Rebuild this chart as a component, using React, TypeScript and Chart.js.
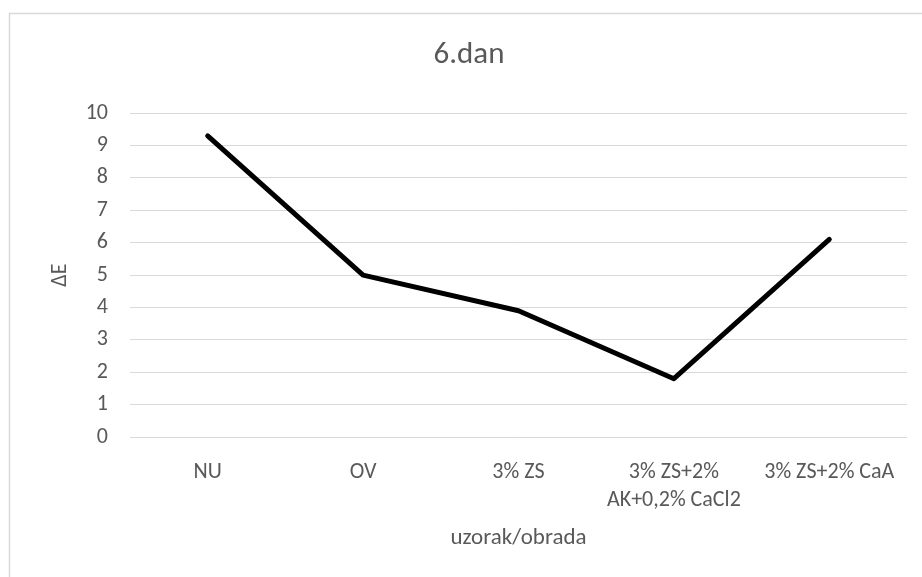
import React, { useEffect, useRef } from "react";
import { Chart, registerables } from "chart.js";

Chart.register(...registerables);

const categories: (string | string[])[] = [
  "NU",
  "OV",
  "3% ZS",
  ["3% ZS+2%", "AK+0,2% CaCl2"],
  "3% ZS+2% CaA",
];
const deltaE: number[] = [9.3, 5.0, 3.9, 1.8, 6.1];
const yTicksMin = 0;
const yTicksMax = 10;
const titleText = "6.dan";
const xTitle = "uzorak/obrada";
const yTitle = "ΔE";

const FONT = "Carlito, Lato, sans-serif";
const TEXT = "#595959";
const GRID = "#d9d9d9";

const frame = {
  id: "frame",
  beforeDraw(chart: any) {
    const ctx = chart.ctx;
    ctx.save();
    ctx.fillStyle = "#ffffff";
    ctx.fillRect(0, 0, chart.width, chart.height);
    ctx.strokeStyle = GRID;
    ctx.lineWidth = 1.5;
    ctx.strokeRect(9.5, 13.5, 1000, 1000);
    ctx.restore();
  },
};

export default function App() {
  const ref = useRef<HTMLCanvasElement | null>(null);
  useEffect(() => {
    if (!ref.current) return;
    const chart = new Chart(ref.current, {
      type: "line",
      data: {
        labels: categories,
        datasets: [
          {
            data: deltaE,
            borderColor: "#000000",
            backgroundColor: "#000000",
            borderWidth: 5,
            pointRadius: 0,
            tension: 0,
            borderJoinStyle: "round",
            borderCapStyle: "round",
          },
        ],
      },
      options: {
        animation: false,
        responsive: false,
        devicePixelRatio: 1,
        layout: { padding: { left: 31, right: 15, top: 13, bottom: 0 } },
        plugins: {
          legend: { display: false },
          tooltip: { enabled: false },
          title: {
            display: true,
            text: titleText,
            color: TEXT,
            font: { family: FONT, size: 31, weight: "normal", lineHeight: 1.2 },
            padding: { top: 24, bottom: 39 },
          },
        },
        scales: {
          x: {
            offset: true,
            grid: { display: false, drawTicks: false },
            border: { display: false },
            ticks: {
              color: TEXT,
              font: { family: FONT, size: 22, lineHeight: "28px" },
              padding: 21.5,
              maxRotation: 0,
              autoSkip: false,
            },
            title: {
              display: true,
              text: xTitle,
              color: TEXT,
              font: { family: FONT, size: 23, lineHeight: 1.2 },
              padding: { top: 0, bottom: 25 },
            },
            afterFit: (s: any) => {
              s.height = 140;
            },
          },
          y: {
            min: yTicksMin,
            max: yTicksMax,
            grid: { color: GRID, lineWidth: 1, drawTicks: false },
            border: { display: false },
            ticks: {
              stepSize: 1,
              color: TEXT,
              font: { family: FONT, size: 22 },
              padding: 22,
            },
            title: {
              display: true,
              text: yTitle,
              color: TEXT,
              font: { family: FONT, size: 22, lineHeight: 1.2 },
              padding: { top: 16, bottom: 0 },
            },
            afterFit: (s: any) => {
              s.width = 99;
            },
          },
        },
      },
      plugins: [frame],
    } as any);
    return () => chart.destroy();
  }, []);
  return (
    <div
      style={{
        position: "fixed",
        left: 0,
        top: 0,
        width: 922,
        height: 577,
        background: "#fff",
      }}
    >
      <canvas ref={ref} width={922} height={577} style={{ width: 922, height: 577, display: "block" }} />
    </div>
  );
}
